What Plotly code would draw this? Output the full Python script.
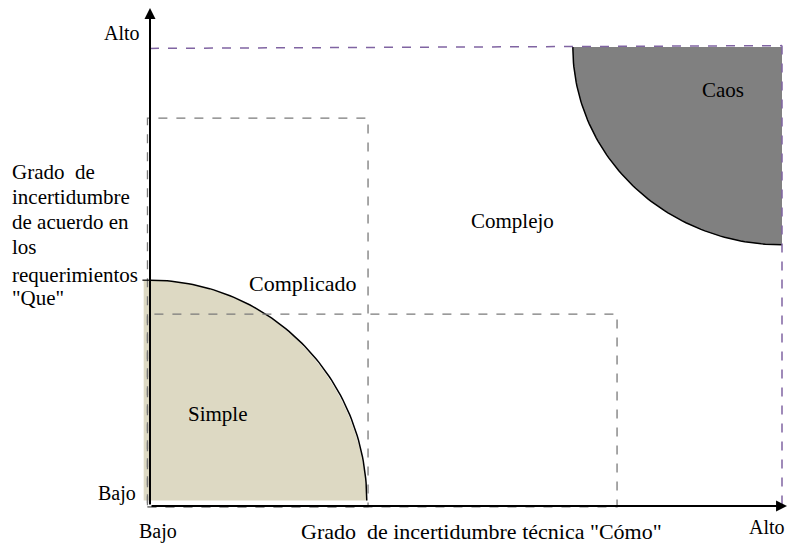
import numpy as np
import plotly.graph_objects as go

# Diagram geometry in normalized units (0 = Bajo, 1 = Alto)
region_names = ["Simple", "Complicado", "Complejo", "Caos"]
simple_radius = [0.343, 0.492]          # quarter ellipse at origin (rx, ry)
complicado_box = [0.345, 0.845]         # dashed box (x_max, y_max)
complejo_box = [0.739, 0.418]           # dashed box (x_max, y_max)
caos_radius = [0.331, 0.431]            # quarter ellipse at (1,1)
label_pos_x = [0.1076, 0.242, 0.574, 0.9066]
label_pos_y = [0.2004, 0.4837, 0.621, 0.906]
label_sizes = [21, 22, 21, 21]
axis_ticks = ["Bajo", "Alto"]
x_title = 'Grado  de incertidumbre técnica "Cómo"'
y_title_lines = ["Grado  de", "incertidumbre", "de acuerdo en", "los", "requerimientos", '"Que"']
y_title_line_y = [0.7277, 0.6732, 0.6187, 0.565, 0.5033, 0.4532]

W, H = 787, 545
ox, oy = 150, 506   # pixel origin
sx, sy = 632, 459   # pixels per unit
xr = [-ox / sx, (W - ox) / sx]
yr = [(oy - H) / sy, oy / sy]

FONT = "Liberation Serif, Times New Roman, serif"
fig = go.Figure()

t = np.linspace(0, np.pi / 2, 80)
# Simple
xs = np.concatenate([[-0.01, -0.01], simple_radius[0] * np.cos(t)[::-1], [simple_radius[0]]])
ys = np.concatenate([[0.012, simple_radius[1]], simple_radius[1] * np.sin(t)[::-1], [0.012]])
fig.add_trace(go.Scatter(x=xs, y=ys, fill="toself", fillcolor="#DDD9C3", mode="none", hoverinfo="skip"))
fig.add_trace(go.Scatter(x=simple_radius[0] * np.cos(t), y=0.012 + (simple_radius[1] - 0.012) * np.sin(t),
                         mode="lines", line=dict(color="black", width=1.5), hoverinfo="skip"))
# Caos
cx = 1 - caos_radius[0] * np.cos(t)
cy = 1 - caos_radius[1] * np.sin(t)
fig.add_trace(go.Scatter(x=np.concatenate([cx, [1, 1 - caos_radius[0]]]), y=np.concatenate([cy, [1, 1]]),
                         fill="toself", fillcolor="#808080", mode="none", hoverinfo="skip"))
fig.add_trace(go.Scatter(x=cx, y=cy, mode="lines", line=dict(color="black", width=1.5), hoverinfo="skip"))

gray = dict(color="#7a7a7a", width=1.3, dash="dash")
fig.add_shape(type="rect", x0=-0.004, y0=-0.002, x1=complicado_box[0], y1=complicado_box[1], line=gray)
fig.add_shape(type="rect", x0=-0.004, y0=-0.002, x1=complejo_box[0], y1=complejo_box[1], line=gray)
purple = dict(color="#8064A2", width=1.5, dash="dash")
fig.add_shape(type="line", x0=0, y0=0.997, x1=1.0, y1=1.003, line=purple)
fig.add_shape(type="line", x0=1.0, y0=1.003, x1=1.0, y1=0, line=purple)

# Axes with arrows
fig.add_annotation(x=1.008, y=0, ax=0, ay=0, xref="x", yref="y", axref="x", ayref="y",
                   showarrow=True, arrowhead=2, arrowsize=1.1, arrowwidth=2, arrowcolor="black", text="")
fig.add_annotation(x=0, y=1.085, ax=0, ay=0, xref="x", yref="y", axref="x", ayref="y",
                   showarrow=True, arrowhead=2, arrowsize=1.1, arrowwidth=2, arrowcolor="black", text="")
# small tick
fig.add_shape(type="line", x0=-0.012, y0=0.492, x1=0, y1=0.492, line=dict(color="black", width=1.2))

def font(size):
    return dict(family=FONT, size=size, color="black")

for name, lx, ly, sz in zip(region_names, label_pos_x, label_pos_y, label_sizes):
    fig.add_annotation(x=lx, y=ly, text=name, showarrow=False, font=font(sz))

fig.add_annotation(x=-0.052, y=0.028, text=axis_ticks[0], showarrow=False, font=font(20))
fig.add_annotation(x=-0.044, y=1.03, text=axis_ticks[1], showarrow=False, font=font(20))
fig.add_annotation(x=0.0127, y=-0.0545, text=axis_ticks[0], showarrow=False, font=font(20))
fig.add_annotation(x=0.976, y=-0.0458, text=axis_ticks[1], showarrow=False, font=font(20))
fig.add_annotation(x=0.525, y=-0.0566, text=x_title, showarrow=False, font=font(22))
for line, ly in zip(y_title_lines, y_title_line_y):
    fig.add_annotation(x=-0.2215, y=ly, text=line, showarrow=False, font=font(21), xanchor="left")

fig.update_layout(width=W, height=H, margin=dict(l=0, r=0, t=0, b=0), showlegend=False,
                  plot_bgcolor="white", paper_bgcolor="white",
                  xaxis=dict(range=xr, visible=False, fixedrange=True),
                  yaxis=dict(range=yr, visible=False, fixedrange=True))
fig.write_html("out.html", config={"displayModeBar": False},
               post_script="document.body.style.margin='0';document.body.style.overflow='hidden';")
